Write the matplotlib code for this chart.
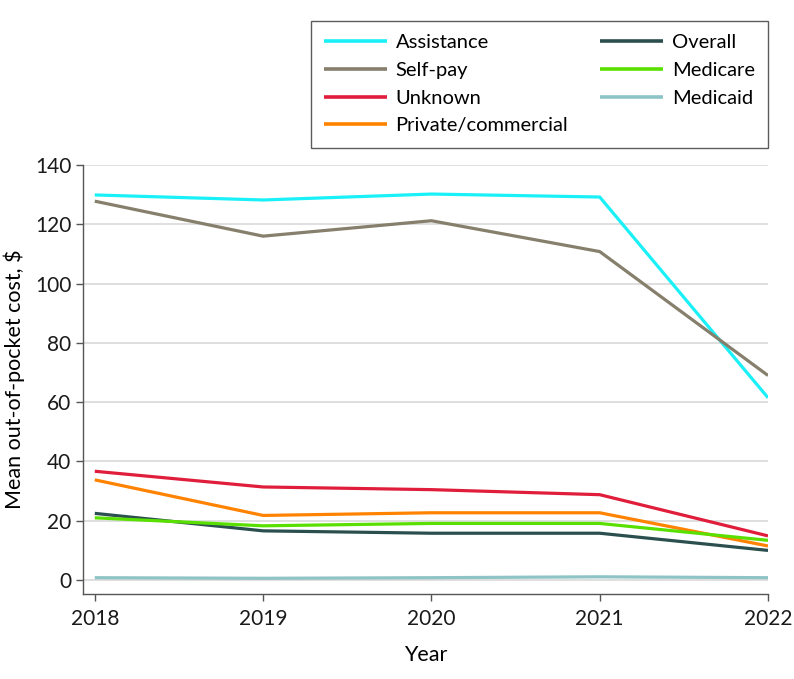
import matplotlib.pyplot as plt

plt.rcParams['font.family'] = ['Lato', 'DejaVu Sans']

years = [2018, 2019, 2020, 2021, 2022]

# mean out-of-pocket cost by payer, $
assistance = [129.9, 128.2, 130.2, 129.2, 61.5]
self_pay = [127.8, 116.0, 121.2, 110.8, 69.0]
unknown = [36.7, 31.4, 30.5, 28.8, 14.9]
private = [33.8, 21.8, 22.7, 22.7, 11.5]
overall = [22.5, 16.6, 15.8, 15.8, 10.0]
medicare = [21.0, 18.3, 19.1, 19.1, 13.4]
medicaid = [0.8, 0.6, 0.8, 1.1, 0.8]

series = [
    ('Assistance', assistance, '#1af0f7'),
    ('Self-pay', self_pay, '#857f6c'),
    ('Unknown', unknown, '#e01e3c'),
    ('Private/commercial', private, '#ff8300'),
    ('Overall', overall, '#2b4e4e'),
    ('Medicare', medicare, '#5ae000'),
    ('Medicaid', medicaid, '#8ec4c6'),
]

W, H = 794, 679
fig = plt.figure(figsize=(W / 100, H / 100), dpi=100)
ax = fig.add_axes([83 / W, 1 - 594 / H, (768 - 83) / W, (594 - 165) / H])

for name, vals, col in series:
    ax.plot(years, vals, color=col, lw=2.3, label=name, solid_capstyle='butt')

ax.set_xlim(2017.93, 2022)
ax.set_ylim(-4.7, 140)
ax.set_xticks(years)
ax.set_yticks(range(0, 141, 20))
ax.yaxis.grid(True, color='#d9d9d9', lw=1.2)
ax.set_axisbelow(True)

for s in ['top', 'right']:
    ax.spines[s].set_visible(False)
for s in ['left', 'bottom']:
    ax.spines[s].set_color('#555555')
    ax.spines[s].set_linewidth(1.0)

ax.tick_params(axis='both', labelsize=15, color='#555555', length=5, width=1.0,
               labelcolor='#1a1a1a')
ax.tick_params(axis='x', pad=6)
ax.set_xlabel('Year', fontsize=15.5, labelpad=11)
ax.set_ylabel('Mean out-of-pocket cost, $', fontsize=15.5, labelpad=7)

leg = fig.legend(loc='upper left',
                 bbox_to_anchor=(311 / W, 1 - 21 / H, 457 / W, 0),
                 mode='expand', ncol=2, fontsize=14.5, frameon=True,
                 fancybox=False, handlelength=3.1, labelspacing=0.53,
                 borderpad=0.65, borderaxespad=0, handletextpad=0.45)
leg.get_frame().set_edgecolor('#333333')
leg.get_frame().set_linewidth(1.0)
for line in leg.get_lines():
    line.set_linewidth(2.6)

fig.savefig('out.png', dpi=100)
